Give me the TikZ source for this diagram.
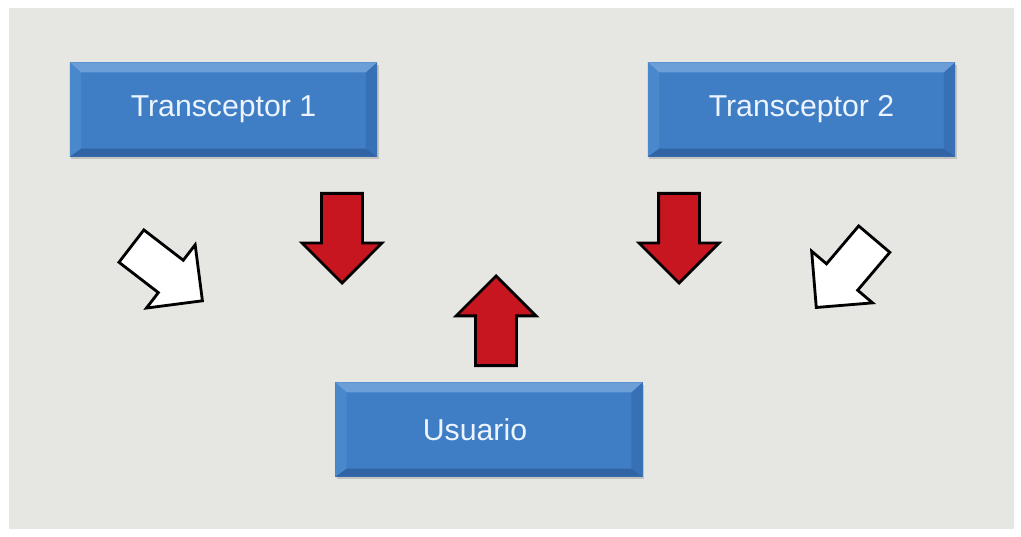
\documentclass[tikz,border=0pt]{standalone}
\usepackage{fontspec}
\setmainfont{Liberation Sans}
\usetikzlibrary{shapes.arrows,shadows}

\definecolor{bggray}{RGB}{230,230,226}
\definecolor{boxblue}{RGB}{63,125,196}
\definecolor{boxtop}{RGB}{108,158,215}
\definecolor{boxleft}{RGB}{74,136,204}
\definecolor{boxright}{RGB}{55,112,180}
\definecolor{boxbottom}{RGB}{48,100,165}
\definecolor{labelwhite}{RGB}{236,245,255}
\definecolor{arrowred}{RGB}{200,22,32}

\tikzset{
  panel/.style={minimum width=7.68cm, minimum height=2.35cm, inner sep=0pt,
    fill=boxblue, text=labelwhite, font=\fontsize{21.5}{26}\selectfont,
    drop shadow={shadow xshift=0.4mm, shadow yshift=-0.7mm, opacity=0.35},
    path picture={
      \coordinate (pnw) at (path picture bounding box.north west);
      \coordinate (pne) at (path picture bounding box.north east);
      \coordinate (psw) at (path picture bounding box.south west);
      \coordinate (pse) at (path picture bounding box.south east);
      \fill[boxtop] (pnw) -- (pne) -- ([xshift=-0.28cm,yshift=-0.25cm]pne) -- ([xshift=0.28cm,yshift=-0.25cm]pnw) -- cycle;
      \fill[boxbottom] (psw) -- (pse) -- ([xshift=-0.28cm,yshift=0.2cm]pse) -- ([xshift=0.28cm,yshift=0.2cm]psw) -- cycle;
      \fill[boxleft] (pnw) -- ([xshift=0.28cm,yshift=-0.25cm]pnw) -- ([xshift=0.28cm,yshift=0.2cm]psw) -- (psw) -- cycle;
      \fill[boxright] (pne) -- ([xshift=-0.28cm,yshift=-0.25cm]pne) -- ([xshift=-0.28cm,yshift=0.2cm]pse) -- (pse) -- cycle;
    }},
  bigarrow/.style={single arrow, draw=black, line width=2pt, inner xsep=0pt, inner ysep=0.475cm,
    minimum height=2.24cm, single arrow head extend=0.4875cm, anchor=tip},
  redarrow/.style={bigarrow, fill=arrowred},
  whitearrow/.style={bigarrow, fill=white},
}

\begin{document}
\begin{tikzpicture}[x=0.025cm, y=-0.025cm]
        % \draw[help lines, gray!50, very thin] (0,0) grid[step=50] (1021,537);
        \useasboundingbox (0,0) rectangle (1021,537);
        \fill[bggray] (9,8) rectangle (1014,529);

        \node[panel] (trans1) at (223.5,109.5) {Transceptor 1};
        \node[panel] (trans2) at (801.5,109.5) {Transceptor 2};
        \node[panel] (user) at (489,429.5) {Usuario\hspace*{0.7cm}};

        \node[redarrow, rotate=-90] (down1) at (342,285) {};
        \node[redarrow, rotate=90] (up) at (496,274) {};
        \node[redarrow, rotate=-90] (down2) at (679,285) {};

        \node[whitearrow, rotate=-37.6] (wleft) at (204,302) {};
        \node[whitearrow, rotate=-130.3] (wright) at (815,309) {};
      \end{tikzpicture}
\end{document}
